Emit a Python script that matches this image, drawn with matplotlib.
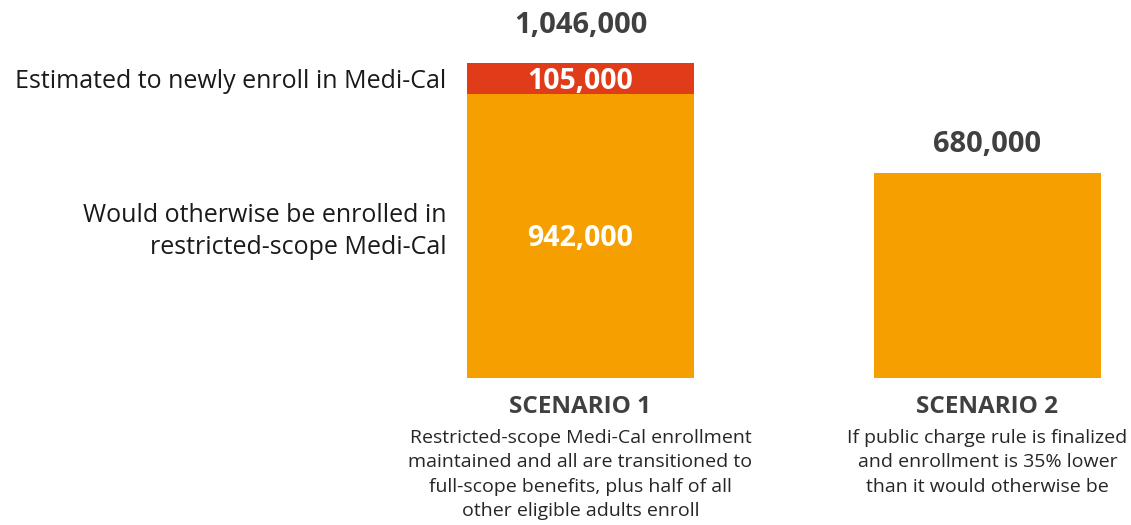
import matplotlib.pyplot as plt

plt.rcParams['font.family'] = ['Open Sans', 'DejaVu Sans']

scenarios = ['SCENARIO 1', 'SCENARIO 2']
descriptions = [
    'Restricted-scope Medi-Cal enrollment\nmaintained and all are transitioned to\nfull-scope benefits, plus half of all\nother eligible adults enroll',
    'If public charge rule is finalized\nand enrollment is 35% lower\nthan it would otherwise be',
]
base = [942000, 680000]      # would otherwise be enrolled / scenario 2 total
new = [105000, 0]            # newly enroll (scenario 1 only)
totals = [1046000, 680000]

orange = '#F5A000'
red = '#E03C1A'
gray = '#404040'

fig = plt.figure(figsize=(11.31, 5.25), dpi=100)
ax = fig.add_axes([0, 0, 1, 1])
x = [0, 1]
w = 0.558
ax.bar(x, base, width=w, color=orange)
ax.bar(x[0], new[0], bottom=base[0], width=w, color=red)

ax.set_xlim(-1.426, 1.3526)
ax.set_ylim(-488200, 1255300)
ax.axis('off')

# value labels inside the bars
ax.annotate(f'{base[0]:,}', (x[0], base[0] / 2), xytext=(0, -2), textcoords='offset points',
            ha='center', va='center', color='white', fontsize=20.5, fontweight='bold')
ax.annotate(f'{new[0]:,}', (x[0], base[0] + new[0] / 2), xytext=(0, -2), textcoords='offset points',
            ha='center', va='center', color='white', fontsize=20.5, fontweight='bold')
# totals above the bars
ax.annotate(f'{totals[0]:,}', (x[0], totals[0]), xytext=(0, 27), textcoords='offset points',
            ha='center', va='center', color=gray, fontsize=21, fontweight='bold')
ax.annotate(f'{totals[1]:,}', (x[1], totals[1]), xytext=(0, 20.5), textcoords='offset points',
            ha='center', va='center', color=gray, fontsize=21, fontweight='bold')

# scenario labels
for xi, s, d in zip(x, scenarios, descriptions):
    ax.annotate(s, (xi, 0), xytext=(0, -21), textcoords='offset points',
                ha='center', va='center', color=gray, fontsize=17.5, fontweight='bold')
    ax.annotate(d, (xi, 0), xytext=(0, -36.5), textcoords='offset points',
                ha='center', va='top', color='#262626', fontsize=14, linespacing=1.46)

# left-side segment labels
xl = x[0] - w / 2 - 0.05
ax.annotate('Estimated to newly enroll in Medi-Cal', (xl, base[0] + new[0] / 2),
            xytext=(0, -2), textcoords='offset points',
            ha='right', va='center', color='#1a1a1a', fontsize=18)
ax.text(xl, 487000, 'Would otherwise be enrolled in\nrestricted-scope Medi-Cal',
        ha='right', va='center', color='#1a1a1a', fontsize=18, linespacing=1.35)

fig.savefig('out.png', dpi=100)
